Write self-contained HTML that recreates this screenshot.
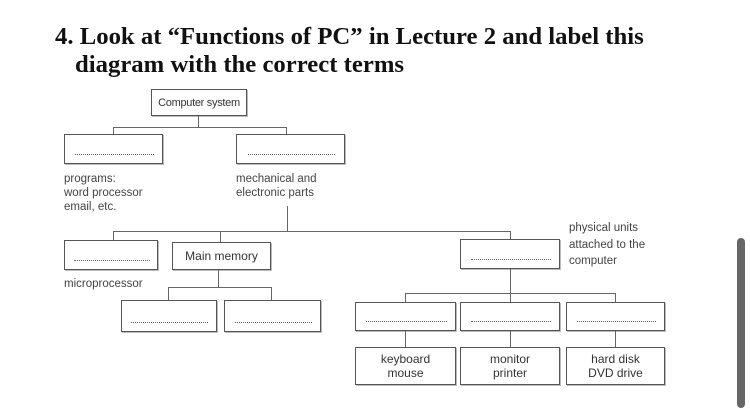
<!DOCTYPE html>
<html><head><meta charset="utf-8"><style>
body{margin:0;width:750px;height:400px;background:#fff;position:relative;overflow:hidden;font-family:"Liberation Sans",sans-serif;}
.t{position:absolute;font-family:"Liberation Serif",serif;font-weight:bold;font-size:24px;color:#111;white-space:nowrap;transform-origin:0 0;}
.b{position:absolute;border:1.5px solid #555;box-sizing:border-box;background:#fff;box-shadow:1px 1px 0 #bbb;}
.b.e::after{content:"";position:absolute;left:10%;right:8%;bottom:8px;border-bottom:1.5px dotted #666;}
.h{position:absolute;height:0;border-top:1.5px solid #666;}
.v{position:absolute;width:0;border-left:1.5px solid #666;}
.l{position:absolute;font-size:11.5px;color:#444;line-height:14px;white-space:nowrap;}
.c{display:flex;align-items:center;justify-content:center;text-align:center;font-size:12px;color:#333;line-height:14px;white-space:nowrap;}
</style></head><body>
<div class="t" style="left:55px;top:24px;transform:scale(1.03,1);">4. Look at “Functions of PC” in Lecture 2 and label this</div>
<div class="t" style="left:75px;top:52px;transform:scale(1.03,1);">diagram with the correct terms</div>

<div class="b c" style="left:151px;top:89px;width:96px;height:27px;font-size:11px;letter-spacing:-0.3px;">Computer system</div>
<div class="v" style="left:198px;top:116px;height:11px;"></div>
<div class="h" style="left:113px;top:127px;width:174px;"></div>
<div class="v" style="left:113px;top:127px;height:7px;"></div>
<div class="v" style="left:286px;top:127px;height:7px;"></div>
<div class="b e" style="left:64px;top:134px;width:99px;height:30px;"></div>
<div class="b e" style="left:236px;top:134px;width:109px;height:30px;"></div>
<div class="l" style="left:64px;top:172px;">programs:<br>word processor<br>email, etc.</div>
<div class="l" style="left:236px;top:172px;">mechanical and<br>electronic parts</div>

<div class="v" style="left:287px;top:206px;height:25px;"></div>
<div class="h" style="left:113px;top:231px;width:398px;"></div>
<div class="v" style="left:113px;top:231px;height:9px;"></div>
<div class="v" style="left:220px;top:231px;height:11px;"></div>
<div class="v" style="left:510px;top:231px;height:8px;"></div>
<div class="b e" style="left:64px;top:240px;width:94px;height:30px;"></div>
<div class="b c" style="left:172px;top:242px;width:99px;height:28px;">Main memory</div>
<div class="l" style="left:64px;top:277px;">microprocessor</div>
<div class="v" style="left:218px;top:270px;height:17px;"></div>
<div class="h" style="left:168px;top:287px;width:104px;"></div>
<div class="v" style="left:168px;top:287px;height:13px;"></div>
<div class="v" style="left:271px;top:287px;height:13px;"></div>
<div class="b e" style="left:121px;top:300px;width:96px;height:32px;"></div>
<div class="b e" style="left:224px;top:300px;width:97px;height:32px;"></div>

<div class="b e" style="left:460px;top:239px;width:100px;height:30px;"></div>
<div class="l" style="left:569px;top:220px;line-height:16.5px;">physical units<br>attached to the<br>computer</div>
<div class="v" style="left:510px;top:269px;height:24px;"></div>
<div class="h" style="left:405px;top:293px;width:211px;"></div>
<div class="v" style="left:405px;top:293px;height:9px;"></div>
<div class="v" style="left:615px;top:293px;height:9px;"></div>
<div class="v" style="left:510px;top:293px;height:9px;"></div>
<div class="b e" style="left:355px;top:302px;width:101px;height:29px;"></div>
<div class="b e" style="left:460px;top:302px;width:100px;height:29px;"></div>
<div class="b e" style="left:566px;top:302px;width:99px;height:29px;"></div>
<div class="v" style="left:405px;top:331px;height:16px;"></div>
<div class="v" style="left:510px;top:331px;height:16px;"></div>
<div class="v" style="left:615px;top:331px;height:16px;"></div>
<div class="b c" style="left:355px;top:347px;width:101px;height:38px;">keyboard<br>mouse</div>
<div class="b c" style="left:460px;top:347px;width:100px;height:38px;">monitor<br>printer</div>
<div class="b c" style="left:566px;top:347px;width:99px;height:38px;">hard disk<br>DVD drive</div>

<div style="position:absolute;left:737px;top:238px;width:8px;height:170px;background:#666;border-radius:4px;"></div>
</body></html>
